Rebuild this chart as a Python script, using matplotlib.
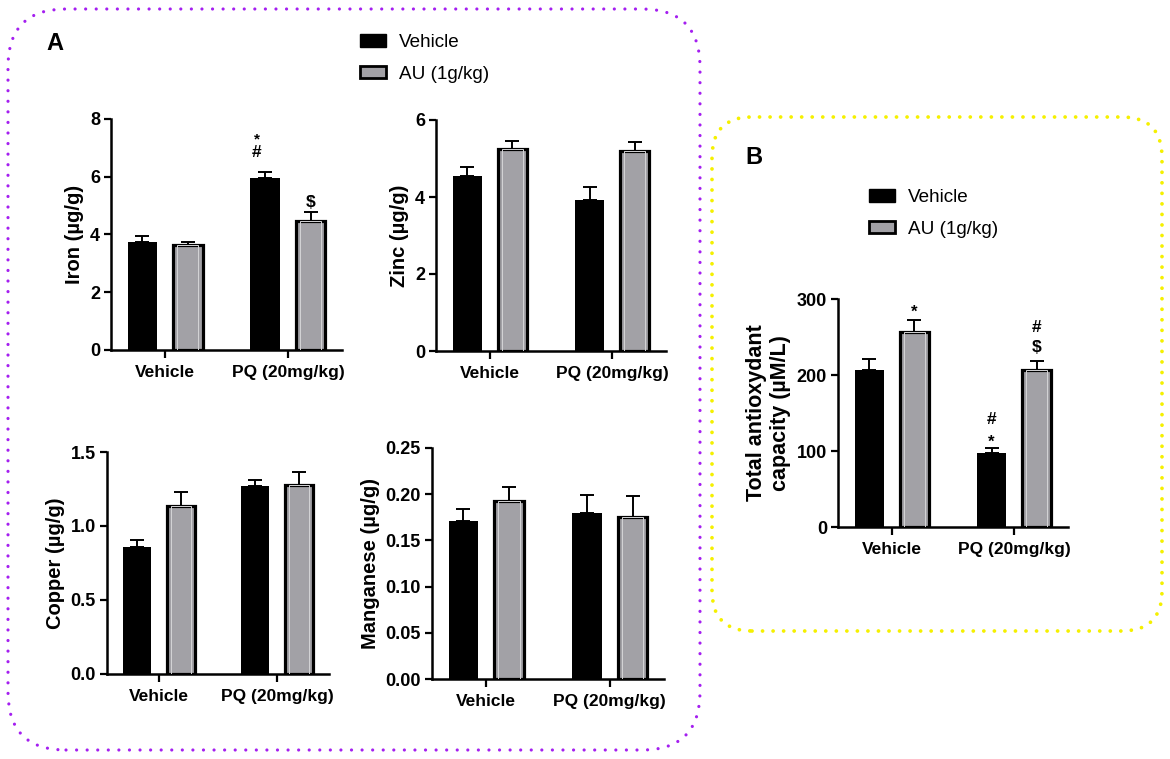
import matplotlib
matplotlib.use('Agg')
import matplotlib.pyplot as plt
import numpy
from matplotlib.patches import FancyBboxPatch, Patch
from matplotlib.transforms import IdentityTransform

plt.rcParams['font.family'] = ['Liberation Sans', 'DejaVu Sans']

# ---- data ----
groups = ['Vehicle', 'PQ (20mg/kg)']
series = ['Vehicle', 'AU (1g/kg)']

iron_vehicle = [3.75, 5.97]
iron_vehicle_err = [0.21, 0.21]
iron_au = [3.64, 4.48]
iron_au_err = [0.11, 0.31]

zinc_vehicle = [4.55, 3.93]
zinc_vehicle_err = [0.24, 0.34]
zinc_au = [5.25, 5.2]
zinc_au_err = [0.2, 0.22]

copper_vehicle = [0.856, 1.268]
copper_vehicle_err = [0.047, 0.043]
copper_au = [1.134, 1.279]
copper_au_err = [0.096, 0.088]

manganese_vehicle = [0.171, 0.180]
manganese_vehicle_err = [0.013, 0.019]
manganese_au = [0.193, 0.175]
manganese_au_err = [0.015, 0.023]

tac_vehicle = [206, 97]
tac_vehicle_err = [15, 7]
tac_au = [257, 207]
tac_au_err = [15, 12]

iron_ticks = [0, 2, 4, 6, 8]
zinc_ticks = [0, 2, 4, 6]
copper_ticks = [0.0, 0.5, 1.0, 1.5]
copper_ticklabels = ['0.0', '0.5', '1.0', '1.5']
manganese_ticks = [0.0, 0.05, 0.10, 0.15, 0.20, 0.25]
manganese_ticklabels = ['0.00', '0.05', '0.10', '0.15', '0.20', '0.25']
tac_ticks = [0, 100, 200, 300]

BLACK = '#000000'
GREY = '#a2a1a6'
PURPLE = '#a41ff0'
YELLOW = '#f5f000'

W, H = 1170, 759


def px_axes(fig, left, top, right, bottom):
    return fig.add_axes([left / W, 1 - bottom / H, (right - left) / W, (bottom - top) / H])


def bar_panel(ax, veh, veh_err, au, au_err, ticks, ticklabels, ylabel, ylabel_size=14.5):
    x = numpy.arange(len(groups))
    off, bw = 0.185, 0.24
    ax.bar(x - off, veh, bw, color=BLACK, zorder=3)
    ax.errorbar(x - off, veh, yerr=[numpy.zeros(len(veh)), veh_err], fmt='none',
                ecolor=BLACK, elinewidth=1.4, capsize=5, capthick=1.4, zorder=2)
    ax.bar(x + off, au, bw, color=GREY, edgecolor=BLACK, linewidth=2.3, zorder=3)
    ax.bar(x + off, au, bw * 0.72, bottom=0, color='none', edgecolor='#d4d4d6',
           linewidth=0.7, zorder=4)
    ax.errorbar(x + off, au, yerr=[numpy.zeros(len(au)), au_err], fmt='none',
                ecolor=BLACK, elinewidth=1.4, capsize=5, capthick=1.4, zorder=2)
    ax.set_xlim(-0.44, 1.44)
    ax.set_ylim(ticks[0], ticks[-1])
    ax.set_yticks(ticks)
    ax.set_yticklabels(ticklabels, fontsize=13, fontweight='bold')
    ax.set_xticks(x)
    ax.set_xticklabels(groups, fontsize=12.5, fontweight='bold')
    ax.set_ylabel(ylabel, fontsize=ylabel_size, fontweight='bold', labelpad=4)
    for side in ['top', 'right']:
        ax.spines[side].set_visible(False)
    for side in ['left', 'bottom']:
        ax.spines[side].set_linewidth(1.8)
    ax.tick_params(axis='both', width=1.6, length=5, pad=3)
    ax.tick_params(axis='x', length=6, pad=5)
    return x, off


def mark(ax, x, y, s, size=12.5):
    ax.text(x, y, s, ha='center', va='center', fontsize=size, fontweight='bold', zorder=5)


fig = plt.figure(figsize=(W / 100, H / 100), dpi=100)

ax_iron = px_axes(fig, 111, 119, 342, 350)
x, off = bar_panel(ax_iron, iron_vehicle, iron_vehicle_err, iron_au, iron_au_err,
                   iron_ticks, [str(t) for t in iron_ticks], 'Iron (µg/g)')
mark(ax_iron, x[1] - off - 0.07, 7.3, '*', 11)
mark(ax_iron, x[1] - off - 0.07, 6.84, '#')
mark(ax_iron, x[1] + off, 5.12, '$')

ax_zinc = px_axes(fig, 436, 120, 666, 351)
bar_panel(ax_zinc, zinc_vehicle, zinc_vehicle_err, zinc_au, zinc_au_err,
          zinc_ticks, [str(t) for t in zinc_ticks], 'Zinc (µg/g)')

ax_cu = px_axes(fig, 107, 452, 329, 674)
bar_panel(ax_cu, copper_vehicle, copper_vehicle_err, copper_au, copper_au_err,
          copper_ticks, copper_ticklabels, 'Copper (µg/g)')

ax_mn = px_axes(fig, 432, 448, 664, 679)
bar_panel(ax_mn, manganese_vehicle, manganese_vehicle_err, manganese_au, manganese_au_err,
          manganese_ticks, manganese_ticklabels, 'Manganese (µg/g)')

ax_tac = px_axes(fig, 838, 299, 1068, 527)
x, off = bar_panel(ax_tac, tac_vehicle, tac_vehicle_err, tac_au, tac_au_err,
                   tac_ticks, [str(t) for t in tac_ticks],
                   'Total antioxydant\ncapacity (µM/L)', ylabel_size=15.5)
mark(ax_tac, x[0] + off, 283, '*', 12)
mark(ax_tac, x[1] - off, 112, '*', 12)
mark(ax_tac, x[1] - off, 142, '#')
mark(ax_tac, x[1] + off, 236, '$')
mark(ax_tac, x[1] + off, 263, '#')

# legends
handles = [Patch(facecolor=BLACK, edgecolor=BLACK),
           Patch(facecolor=GREY, edgecolor=BLACK, linewidth=2)]
leg_kw = dict(loc='upper left', frameon=False, fontsize=13.6, handlelength=1.35,
              handleheight=0.65, labelspacing=0.78, handletextpad=0.7,
              borderaxespad=0, borderpad=0, bbox_transform=fig.transFigure)
fig.legend(handles, series, bbox_to_anchor=(360 / W, 1 - 34 / H), **leg_kw)
fig.legend(handles, series, bbox_to_anchor=(869 / W, 1 - 189 / H), **leg_kw)

# panel letters
fig.text(55 / W, 1 - 43 / H, 'A', ha='center', va='center', fontsize=17, fontweight='bold')
fig.text(754 / W, 1 - 157 / H, 'B', ha='center', va='center', fontsize=17, fontweight='bold')

# dotted rounded frames (pixel coordinates)
frame_a = FancyBboxPatch((8, H - 750), 692, 741, boxstyle='round,pad=0,rounding_size=58',
                         transform=IdentityTransform(), fill=False, edgecolor=PURPLE,
                         linewidth=2.3, linestyle=(0, (0.01, 3.3)))
frame_a.set_capstyle('round')
fig.add_artist(frame_a)
frame_b = FancyBboxPatch((712, H - 631), 450, 514, boxstyle='round,pad=0,rounding_size=40',
                         transform=IdentityTransform(), fill=False, edgecolor=YELLOW,
                         linewidth=2.7, linestyle=(0, (0.01, 2.8)))
frame_b.set_capstyle('round')
fig.add_artist(frame_b)

fig.savefig('out.png', dpi=100)
plt.close(fig)
